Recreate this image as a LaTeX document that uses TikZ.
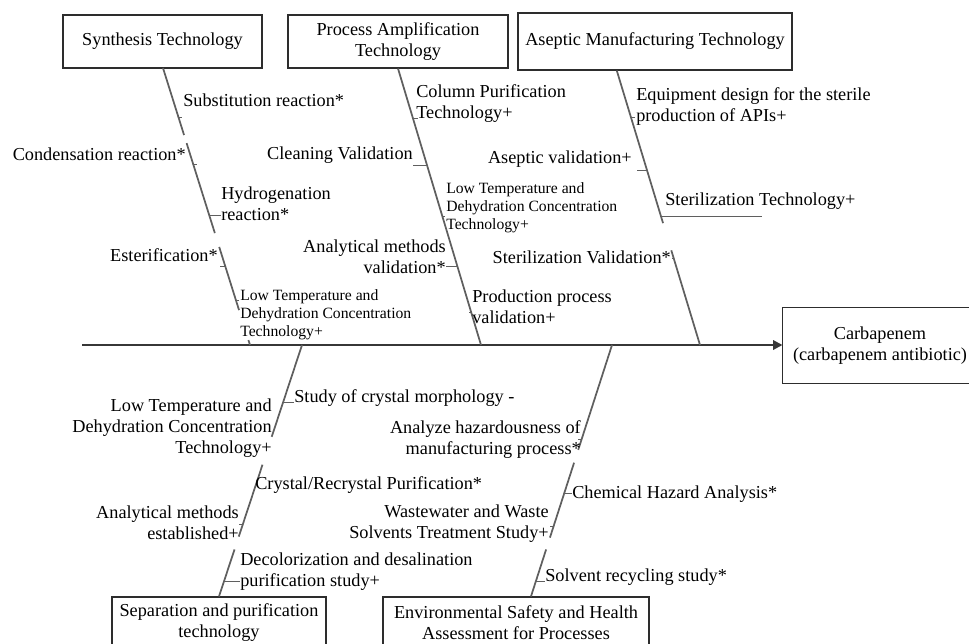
\documentclass[tikz,border=0pt]{standalone}
\usepackage{fontspec}
\setmainfont{Liberation Serif}
\usetikzlibrary{arrows.meta,calc}
\newcommand\fsnorm{\fontsize{13.7}{15.75}\selectfont}
\newcommand\fssmall{\fontsize{11.75}{13.5}\selectfont}
\definecolor{bonec}{RGB}{95,95,95}
\definecolor{spinec}{RGB}{55,55,55}
\definecolor{framec}{RGB}{45,45,45}

\begin{document}
\begin{tikzpicture}[x=0.75pt,y=-0.75pt,
  cat/.style={draw=framec,line width=0.8pt,fill=white,align=center,font=\fsnorm,inner sep=0pt},
  lbl/.style={font=\fsnorm,inner sep=0pt},
  slbl/.style={font=\fssmall,inner sep=0pt,align=left},
  bone/.style={draw=bonec,line width=1.3pt},
  spine/.style={draw=spinec,line width=1.6pt},
  tick/.style={draw=bonec,line width=0.7pt},
  frame/.style={draw=framec,line width=0.8pt}]
\useasboundingbox (0,0) rectangle (969,643);
\clip (0,0) rectangle (969,643);

% ---------- category boxes ----------
\node[cat,minimum width=149.25pt,minimum height=39.75pt] (syn) at (162.5,41.5) {Synthesis Technology};
\node[cat,minimum width=165pt,minimum height=39.75pt] (proc) at (398,41.5) {Process Amplification\\Technology};
\node[cat,minimum width=205.5pt,minimum height=42.75pt] (asep) at (655,41.5) {Aseptic Manufacturing Technology};
\node[cat,minimum width=160.5pt,minimum height=38.25pt] (sep) at (219,622.5) {Separation and purification\\technology};
\node[cat,minimum width=199.5pt,minimum height=38.25pt] (env) at (516,622.5) {Environmental Safety and Health\\Assessment for Processes};

% the effect box runs past the right edge of the page, so only three sides show
\node[cat,draw=none,minimum width=145.5pt,minimum height=56.25pt] (main) at (880,345.5) {Carbapenem\\(carbapenem antibiotic)};
\draw[frame] ($(main.north east)+(20,0)$) -- (main.north west) -- (main.south west) -- ($(main.south east)+(20,0)$);

% ---------- spine ----------
\coordinate (tail) at (82,345);
\coordinate (j1) at (250,345);
\coordinate (j2) at (481,345);
\coordinate (j3) at (700,345);
\coordinate (k1) at (302,345);
\coordinate (k2) at (612,345);
\draw[spine,-{Triangle[length=7pt,width=7pt]}] (tail) -- (tail -| main.west);

% ---------- bone anchors ----------
\coordinate (sA) at (163,68);
\coordinate (pA) at (proc.south);
\coordinate (aA) at ($(asep.south west)!0.361!(asep.south east)$);
\coordinate (eB) at ($(env.north west)!0.556!(env.north east)$);

% ---------- bones (with the breaks left by the labels) ----------
\draw[bone] (sA) -- ($(sA)!0.242!(j1)$)
            ($(sA)!0.271!(j1)$) -- ($(sA)!0.596!(j1)$)
            ($(sA)!0.646!(j1)$) -- ($(sA)!0.874!(j1)$)
            ($(sA)!0.982!(j1)$) -- (j1);
\draw[bone] (pA) -- (j2);
\draw[bone] (aA) -- ($(aA)!0.556!(j3)$)
            ($(aA)!0.655!(j3)$) -- (j3);
\draw[bone] (k1) -- ($(k1)!0.365!(sep.north)$)
            ($(k1)!0.476!(sep.north)$) -- ($(k1)!0.762!(sep.north)$)
            ($(k1)!0.813!(sep.north)$) -- (sep.north);
\draw[bone] (k2) -- ($(k2)!0.417!(eB)$)
            ($(k2)!0.468!(eB)$) -- ($(k2)!0.766!(eB)$)
            ($(k2)!0.813!(eB)$) -- (eB);

% ---------- Synthesis Technology causes ----------
\node[lbl,anchor=west] (sub) at (183,100) {Substitution reaction*};
\node[lbl,anchor=east] (con) at (186,154) {Condensation reaction*};
\node[lbl,anchor=west,align=left] (hyd) at (221,204) {Hydrogenation\\reaction*};
\node[lbl,anchor=east] (est) at (218,255) {Esterification*};
\node[slbl,anchor=west] (lt1) at (240,315) {Low Temperature and\\Dehydration Concentration\\Technology+};
\draw[tick] ($(sA)!0.177!(j1)$) -- ++(4,0);
\draw[tick] ($(sA)!0.350!(j1)$) -- ++(4,0);
\draw[tick] ($(sA)!0.531!(j1)$) coordinate (h1) -- (h1 -| hyd.west);
\draw[tick] ($(sA)!0.715!(j1)$) -- ++(-5,0);
\draw[tick] ($(sA)!0.838!(j1)$) -- ++(3,0);

% ---------- Process Amplification Technology causes ----------
\node[lbl,anchor=west,align=left] (col) at (416,104) {Column Purification\\Technology+};
\node[lbl,anchor=east] (cln) at (413,155) {Cleaning Validation};
\node[slbl,anchor=west] (lt2) at (446,208) {Low Temperature and\\Dehydration Concentration\\Technology+};
\node[lbl,anchor=east,align=right] (anv) at (446,257) {Analytical methods\\validation*};
\node[lbl,anchor=west,align=left] (prod) at (472,307) {Production process\\validation+};
\draw[tick] ($(pA)!0.181!(j2)$) -- ++(5,0);
\draw[tick] ($(pA)!0.350!(j2)$) coordinate (c1) -- (c1 -| cln.east);
\draw[tick] ($(pA)!0.534!(j2)$) -- ++(3,0);
\draw[tick] ($(pA)!0.715!(j2)$) coordinate (c2) -- (c2 -| anv.east);
\draw[tick] ($(pA)!0.884!(j2)$) -- ++(-2,0);

% ---------- Aseptic Manufacturing Technology causes ----------
\node[lbl,anchor=west,align=left] (equ) at (636,107) {Equipment design for the sterile\\production of APIs+};
\node[lbl,anchor=east] (asv) at (632,159) {Aseptic validation+};
\node[lbl,anchor=west] (stt) at (665,201) {Sterilization Technology+};
\node[lbl,anchor=east] (stv) at (671,257) {Sterilization Validation*};
\draw[tick] ($(aA)!0.171!(j3)$) -- ++(4,0);
\draw[tick] ($(aA)!0.364!(j3)$) -- ++(-10,0);
\draw[tick] ($(aA)!0.531!(j3)$) -- ++(101,0);
\draw[tick] ($(aA)!0.684!(j3)$) -- ++(-2,0);

% ---------- Separation and purification technology causes ----------
\node[lbl,anchor=west] (stu) at (294,398) {Study of crystal morphology -};
\node[lbl,anchor=east,align=right] (lt3) at (272,428.5) {Low Temperature and\\Dehydration Concentration\\Technology+};
\node[lbl,anchor=west] (cry) at (255,485) {Crystal/Recrystal Purification*};
\node[lbl,anchor=east,align=right] (ane) at (239,523) {Analytical methods\\established+};
\node[lbl,anchor=west,align=left] (dec) at (240,572) {Decolorization and desalination\\purification study+};
\draw[tick] ($(k1)!0.230!(sep.north)$) coordinate (d1) -- (d1 -| stu.west);
\draw[tick] ($(k1)!0.714!(sep.north)$) -- ++(-4,0);
\draw[tick] ($(k1)!0.940!(sep.north)$) coordinate (d2) -- (d2 -| dec.west);

% ---------- Environmental Safety and Health causes ----------
\node[lbl,anchor=east,align=right] (ana) at (581,440) {Analyze hazardousness of\\manufacturing process*};
\node[lbl,anchor=west] (chem) at (572,494) {Chemical Hazard Analysis*};
\node[lbl,anchor=east,align=right] (was) at (549,524) {Wastewater and Waste\\Solvents Treatment Study+};
\node[lbl,anchor=west] (sol) at (545,577) {Solvent recycling study*};
\draw[tick] ($(k2)!0.377!(eB)$) -- ++(-3,0);
\draw[tick] ($(k2)!0.591!(eB)$) coordinate (e1) -- (e1 -| chem.west);
\draw[tick] ($(k2)!0.722!(eB)$) -- ++(-3,0);
\draw[tick] ($(k2)!0.940!(eB)$) coordinate (e2) -- (e2 -| sol.west);
\end{tikzpicture}
\end{document}
